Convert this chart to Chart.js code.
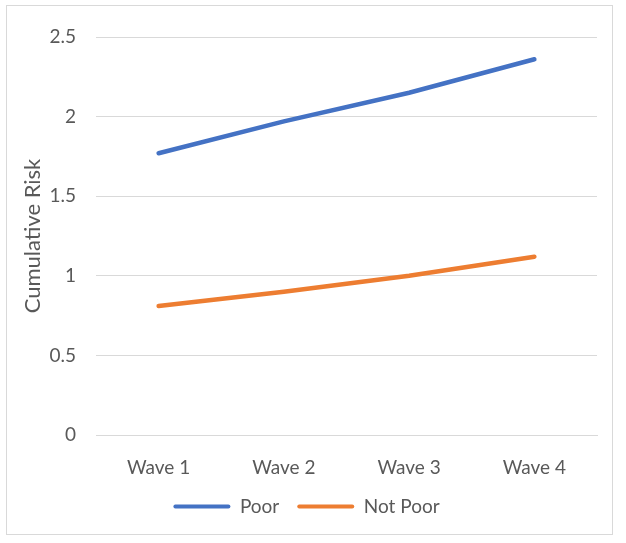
<!doctype html>
<html>
<head>
	<script src="https://cdn.jsdelivr.net/npm/chart.js@4"></script>
	<style>
	body { margin: 0; background: #fff; }
	#frame {
		position: absolute; left: 6px; top: 5px; width: 605px; height: 528px;
		border: 1px solid #d9d9d9;
	}
	#holder { position: absolute; left: 0; top: 0; width: 626px; height: 543px; }
	</style>
</head>
<body>
	<div id="frame"></div>
	<div id="holder"><canvas id="chart"></canvas></div>
	<script>
		var waves = ['Wave 1', 'Wave 2', 'Wave 3', 'Wave 4'];
		var poor = [1.77, 1.97, 2.15, 2.36];
		var notPoor = [0.81, 0.90, 1.00, 1.12];

		var grey = '#595959';
		Chart.defaults.font.family = 'Lato, "Open Sans", sans-serif';
		Chart.defaults.font.size = 19;
		Chart.defaults.color = grey;

		var config = {
			type: 'line',
			data: {
				labels: waves,
				datasets: [{
					label: 'Poor',
					data: poor,
					borderColor: '#4472C4',
					backgroundColor: '#4472C4',
					borderWidth: 4.5,
					borderCapStyle: 'round',
					pointRadius: 0,
					tension: 0
				}, {
					label: 'Not Poor',
					data: notPoor,
					borderColor: '#ED7D31',
					backgroundColor: '#ED7D31',
					borderWidth: 4.5,
					borderCapStyle: 'round',
					pointRadius: 0,
					tension: 0
				}]
			},
			options: {
				responsive: true,
				maintainAspectRatio: false,
				animation: false,
				layout: {
					padding: { left: 16, right: 29, top: 37, bottom: 17 }
				},
				plugins: {
					tooltip: { enabled: false },
					legend: {
						position: 'bottom',
						labels: {
							boxWidth: 57,
							boxHeight: 4,
							padding: 18,
							useBorderRadius: true,
							borderRadius: 2,
							generateLabels: function(chart) {
								return Chart.defaults.plugins.legend.labels.generateLabels(chart).map(function(item) {
									item.lineWidth = 0;
									item.fillStyle = item.strokeStyle;
									return item;
								});
							}
						}
					}
				},
				scales: {
					x: {
						offset: true,
						grid: { display: false, drawTicks: false },
						border: { display: true, color: '#d9d9d9', width: 1 },
						ticks: { padding: 21 },
						afterFit: function(scale) { scale.height = 44; }
					},
					y: {
						min: 0,
						max: 2.5,
						ticks: {
							stepSize: 0.5,
							padding: 20,
							callback: function(v) { return String(v); }
						},
						grid: { color: '#d9d9d9', drawTicks: false },
						border: { display: false },
						title: { display: true, text: 'Cumulative Risk', color: grey, font: { size: 22 } },
						afterFit: function(scale) { scale.width = 80; }
					}
				}
			}
		};

		window.onload = function() {
			var ctx = document.getElementById('chart').getContext('2d');
			window.myChart = new Chart(ctx, config);
		};
	</script>
</body>
</html>
